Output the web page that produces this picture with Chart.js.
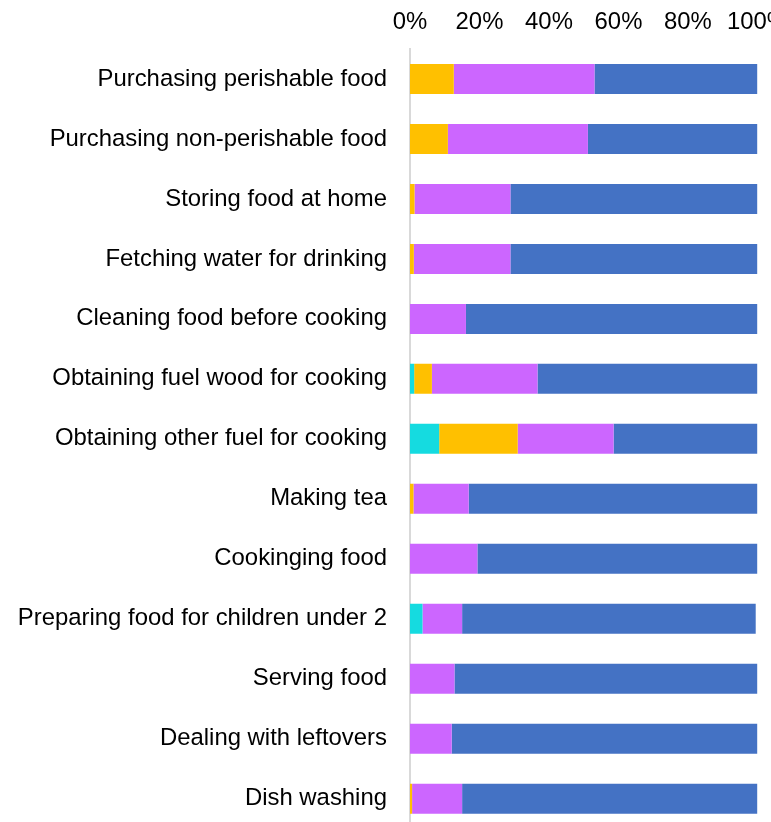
<!DOCTYPE html>
<html>
<head>
<meta charset="utf-8">
<title>Food tasks stacked bar</title>
<script src="https://cdn.jsdelivr.net/npm/chart.js@4.4.1/dist/chart.umd.min.js"></script>
<style>
  html, body { margin: 0; padding: 0; background: #fff; overflow: hidden; }
  #chart { position: absolute; left: 0; top: 0; }
</style>
</head>
<body>
<canvas id="chart" width="800" height="866"></canvas>
<script>
// Share of each task, four groups stacked to 100%
const tasks = [
    'Purchasing perishable food',
    'Purchasing non-perishable food',
    'Storing food at home',
    'Fetching water for drinking',
    'Cleaning food before cooking',
    'Obtaining fuel wood for cooking',
    'Obtaining other fuel for cooking',
    'Making tea',
    'Cookinging food',
    'Preparing food for children under 2',
    'Serving food',
    'Dealing with leftovers',
    'Dish washing'
];
const series1 = [0, 0, 0, 0, 0, 1.2, 8.4, 0, 0, 3.6, 0, 0, 0];
const series2 = [12.6, 10.9, 1.3, 1.1, 0, 5.1, 22.6, 1.0, 0, 0, 0, 0, 0.6];
const series3 = [40.5, 40.3, 27.6, 27.8, 16.1, 30.4, 27.6, 15.9, 19.4, 11.4, 12.8, 12.0, 14.4];
const series4 = [46.9, 48.8, 71.1, 71.1, 83.9, 63.3, 41.4, 83.1, 80.6, 84.5, 87.2, 88.0, 85.0];
const xTicks = [0, 20, 40, 60, 80, 100];

const FONT = { family: 'Arial, "Liberation Sans", sans-serif', size: 23.9 };

new Chart(document.getElementById('chart'), {
    type: 'bar',
    data: {
        labels: tasks,
        datasets: [
            { label: 'Series 1', data: series1, backgroundColor: '#15dbe0' },
            { label: 'Series 2', data: series2, backgroundColor: '#ffc000' },
            { label: 'Series 3', data: series3, backgroundColor: '#cc66ff' },
            { label: 'Series 4', data: series4, backgroundColor: '#4472c4' }
        ]
    },
    options: {
        indexAxis: 'y',
        responsive: false,
        animation: false,
        devicePixelRatio: 1,
        barPercentage: 0.5,
        categoryPercentage: 1.0,
        layout: { padding: { left: 0, top: 0, right: 38, bottom: 11 } },
        plugins: { legend: { display: false }, tooltip: { enabled: false } },
        scales: {
            x: {
                position: 'top',
                stacked: true,
                min: 0, max: 100,
                afterBuildTicks: s => { s.ticks = xTicks.map(v => ({ value: v })); },
                grid: { display: false, drawTicks: false },
                border: { display: false },
                ticks: { padding: 12, color: '#000', font: FONT, callback: v => v + '%' },
                afterFit: s => { s.height = 49; }
            },
            y: {
                stacked: true,
                grid: { display: false, drawTicks: false },
                border: { display: true, color: '#d9d9d9', width: 2 },
                ticks: { padding: 23, color: '#000', font: FONT },
                afterFit: s => { s.width = 410; }
            }
        }
    }
});
</script>
</body>
</html>
